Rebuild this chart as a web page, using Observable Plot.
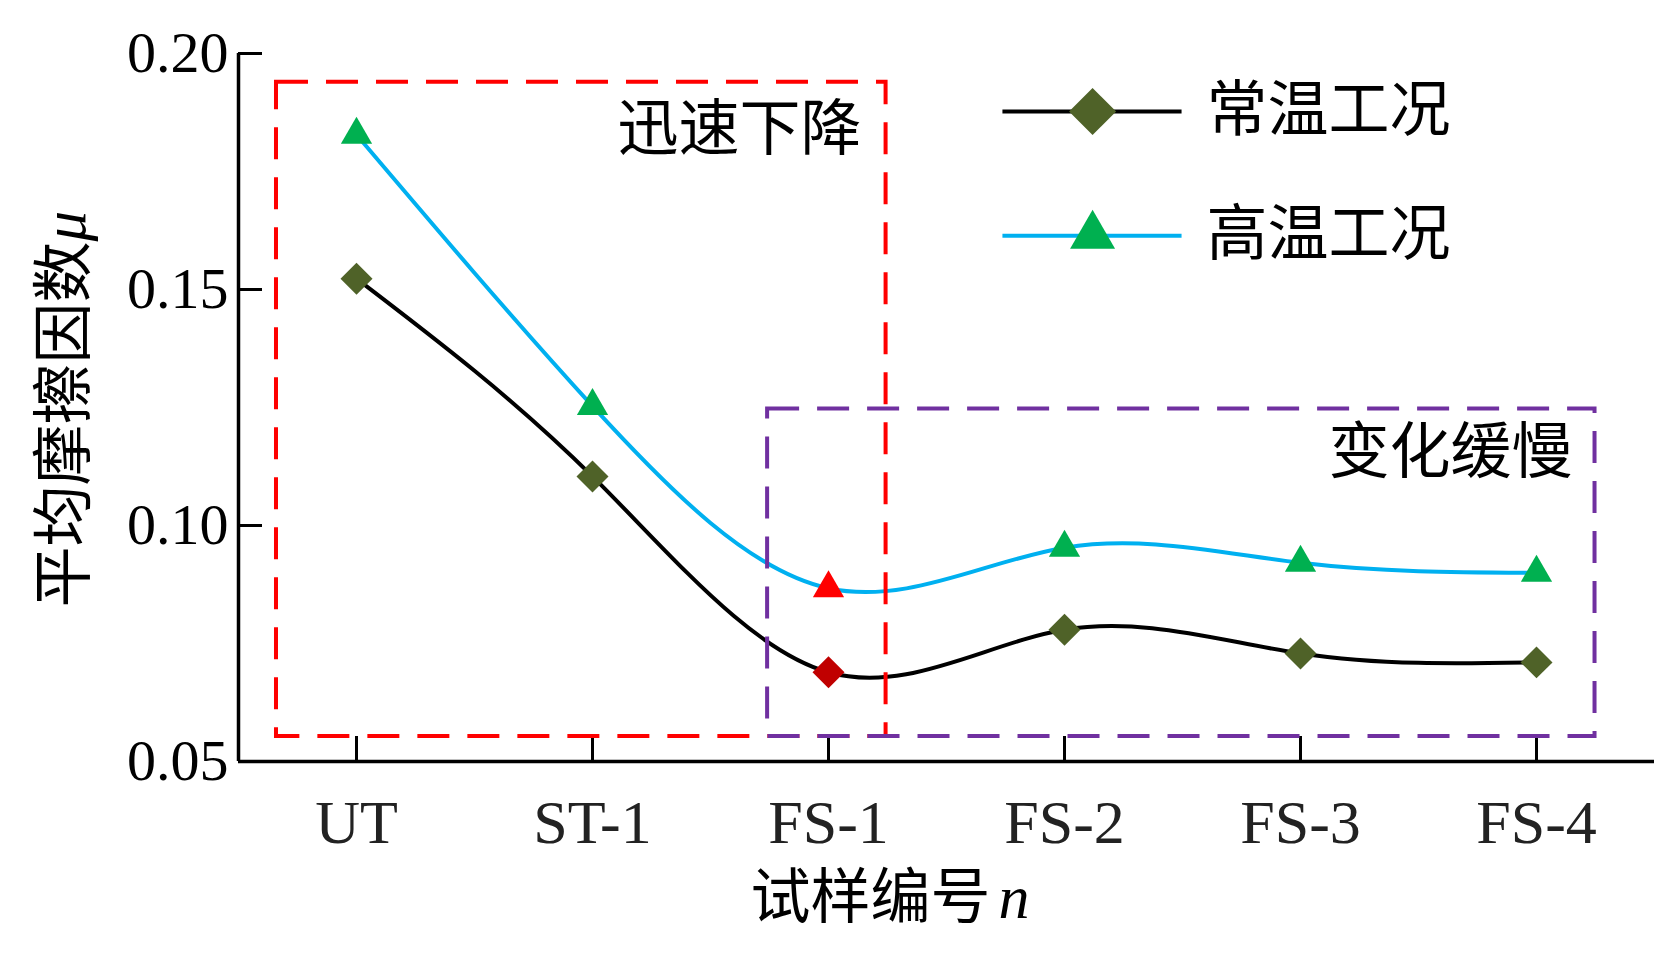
<!DOCTYPE html>
<html><head><meta charset="utf-8">
<script src="https://cdn.jsdelivr.net/npm/d3@7"></script>
<script src="https://cdn.jsdelivr.net/npm/@observablehq/plot@0.6"></script>
<style>html,body{margin:0;padding:0;background:#fff;overflow:hidden}#chart svg{display:block}</style>
</head><body><div id="chart"></div>
<script>
// ---- data ----
const categories = ["UT", "ST-1", "FS-1", "FS-2", "FS-3", "FS-4"];
const normalTemp = [0.1523, 0.1104, 0.0689, 0.0779, 0.0729, 0.0710];
const highTemp   = [0.1828, 0.1253, 0.0867, 0.0953, 0.0921, 0.0900];
const seriesNames = ["常温工况", "高温工况"];
const yTicks = [0.05, 0.10, 0.15, 0.20];
const highlighted = "FS-1";
const regionLabels = ["迅速下降", "变化缓慢"];
const yTitle = "平均摩擦因数";
const yTitleVar = "μ";
const xTitle = "试样编号";
const xTitleVar = "n";

// annotation regions (x: sample index, y: μ)
const rapidBox = {x1: -0.339, x2: 2.244, y1: 0.0553, y2: 0.1939};
const slowBox  = {x1: 1.742,  x2: 5.248, y1: 0.0553, y2: 0.1247};
const rapidLabelPos = {x: 2.14, y: 0.1837};
const slowLabelPos  = {x: 5.153, y: 0.1153};
// legend placement (data units)
const legendX = {x1: 2.737, x2: 3.496, mark: 3.119, text: 3.602};
const legendY = [0.1877, 0.1614];

// ---- build table ----
const rows = categories.map((c, i) => ({i, cat: c, normal: normalTemp[i], high: highTemp[i]}));
const legendRows = seriesNames.map((name, k) => ({name, ly: legendY[k], k}));
const xIdx = categories.map((c, i) => i);

const SERIF = "'Liberation Serif', 'Times New Roman', serif";
const CJK = "'Liberation Serif', 'Noto Sans CJK SC', sans-serif";
const W = 1656, H = 963;
const mL = 238, mR = 2, mT = 53, mB = 202;
const plotW = W - mL - mR, plotH = H - mT - mB;

const olive = "#4F6228", darkRed = "#C00000", green = "#00B050", red = "#FF0000", blue = "#00B0F0";

const chart = Plot.plot({
  width: W, height: H,
  marginLeft: mL, marginRight: mR, marginTop: mT, marginBottom: mB,
  x: {domain: [-0.5, 5.5]},
  y: {domain: [0.05, 0.20]},
  color: {type: "identity"},
  style: {fontFamily: SERIF, fontSize: "58px", background: "white", color: "black", overflow: "visible"},
  marks: [
    // axes lines
    Plot.ruleX([-0.5], {y1: 0.05, y2: 0.20, stroke: "#000", strokeWidth: 3.5}),
    Plot.ruleY([0.05], {x1: -0.5, x2: 5.5, stroke: "#000", strokeWidth: 3.5}),
    // inward ticks
    Plot.tickY(yTicks, {y: d => d, stroke: "#000", strokeWidth: 3, insetRight: plotW - 24}),
    Plot.tickX(xIdx, {x: d => d, stroke: "#000", strokeWidth: 3, insetTop: plotH - 25}),
    Plot.axisY(yTicks, {tickSize: 0, tickPadding: 10, tickFormat: d3.format(".2f"), fontSize: 58, fontFamily: SERIF, fill: "#000"}),
    Plot.axisX(xIdx, {tickSize: 0, tickPadding: 37, tickFormat: i => categories[i], fontSize: 62, fontFamily: SERIF, fill: "#222"}),
    // series lines
    Plot.line(rows, {x: "i", y: "high", stroke: blue, strokeWidth: 4, curve: "natural"}),
    Plot.line(rows, {x: "i", y: "normal", stroke: "#000", strokeWidth: 4, curve: "natural"}),
    // annotation boxes
    Plot.rect([rapidBox], {x1: "x1", x2: "x2", y1: "y1", y2: "y2", fill: "none", stroke: red, strokeWidth: 4, strokeDasharray: "32,18"}),
    Plot.rect([slowBox], {x1: "x1", x2: "x2", y1: "y1", y2: "y2", fill: "none", stroke: "#7030A0", strokeWidth: 4, strokeDasharray: "32,18"}),
    // markers
    Plot.dot(rows, {x: "i", y: "normal", symbol: "diamond2", r: 14.4, fill: d => d.cat === highlighted ? darkRed : olive, stroke: "none"}),
    Plot.dot(rows, {x: "i", y: "high", symbol: "triangle", r: 11.6, fill: d => d.cat === highlighted ? red : green, stroke: "none"}),
    // region labels
    Plot.text([regionLabels[0]], {x: rapidLabelPos.x, y: rapidLabelPos.y, text: d => d, textAnchor: "end", lineAnchor: "middle", fontSize: 61, fontFamily: CJK, fill: "#000"}),
    Plot.text([regionLabels[1]], {x: slowLabelPos.x, y: slowLabelPos.y, text: d => d, textAnchor: "end", lineAnchor: "middle", fontSize: 61, fontFamily: CJK, fill: "#000"}),
    // legend
    Plot.link(legendRows, {x1: legendX.x1, x2: legendX.x2, y1: "ly", y2: "ly", stroke: d => d.k === 0 ? "#000" : blue, strokeWidth: 4}),
    Plot.dot(legendRows.filter(d => d.k === 0), {x: legendX.mark, y: "ly", symbol: "diamond2", r: 21.2, fill: olive, stroke: "none"}),
    Plot.dot(legendRows.filter(d => d.k === 1), {x: legendX.mark, y: "ly", symbol: "triangle", r: 16.7, fill: green, stroke: "none"}),
    Plot.text(legendRows, {x: legendX.text, y: "ly", text: "name", textAnchor: "start", lineAnchor: "middle", fontSize: 61, fontFamily: CJK, fill: "#000"}),
    // axis titles
    Plot.text([yTitle], {frameAnchor: "top-left", dx: 65 - mL, dy: 607 - mT, rotate: -90, text: d => d, textAnchor: "start", lineAnchor: "middle", fontSize: 61, fontFamily: CJK, fill: "#000"}),
    Plot.text([yTitleVar], {frameAnchor: "top-left", dx: 65 - mL, dy: 607 - mT - 366, rotate: -90, text: d => d, textAnchor: "start", lineAnchor: "middle", fontSize: 61, fontStyle: "italic", fontFamily: SERIF, fill: "#000"}),
    Plot.text([xTitle], {frameAnchor: "bottom-left", dx: 750 - mL, dy: 898 - (H - mB), text: d => d, textAnchor: "start", lineAnchor: "middle", fontSize: 60, fontFamily: CJK, fill: "#000"}),
    Plot.text([xTitleVar], {frameAnchor: "bottom-left", dx: 750 - mL + 248, dy: 898 - (H - mB), text: d => d, textAnchor: "start", lineAnchor: "middle", fontSize: 62, fontStyle: "italic", fontFamily: SERIF, fill: "#000"})
  ]
});
document.getElementById("chart").appendChild(chart);
</script>
</body></html>
